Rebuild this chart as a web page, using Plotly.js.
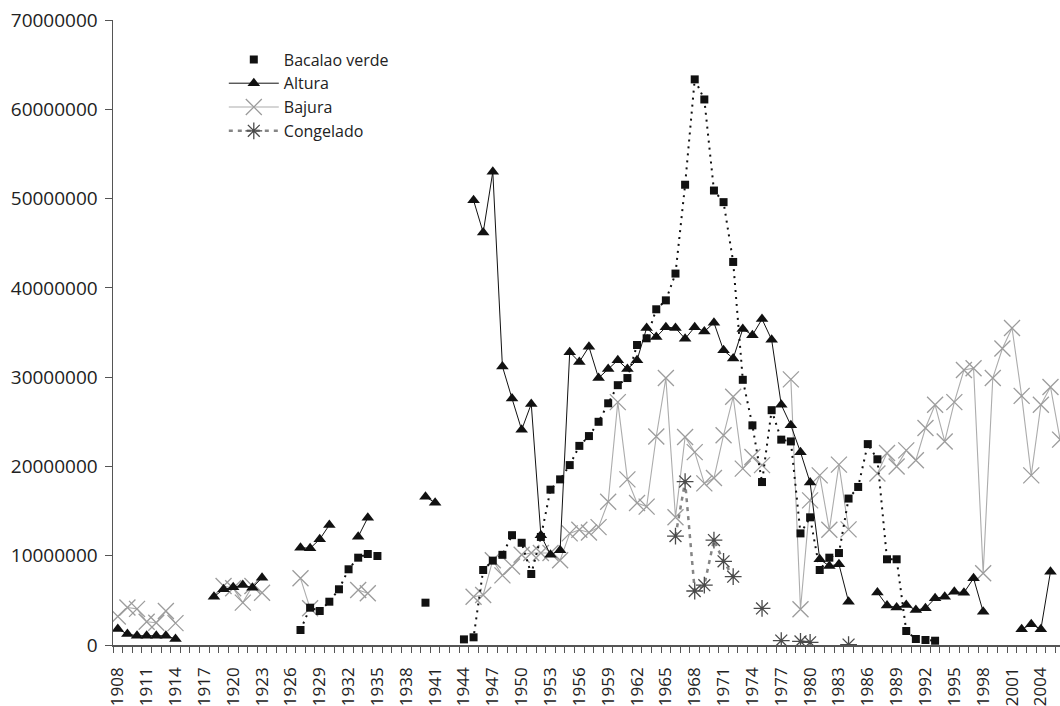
<!DOCTYPE html>
<html>
<head>
<meta charset="utf-8">
<script src="https://cdn.plot.ly/plotly-3.0.1.min.js"></script>
<style>
html,body{margin:0;padding:0;background:#fff;}
#chart{width:1060px;height:706px;}
</style>
</head>
<body>
<div id="chart"></div>
<script>
const years = [
1908,1909,1910,1911,1912,1913,1914,1915,1916,1917,
1918,1919,1920,1921,1922,1923,1924,1925,1926,1927,
1928,1929,1930,1931,1932,1933,1934,1935,1936,1937,
1938,1939,1940,1941,1942,1943,1944,1945,1946,1947,
1948,1949,1950,1951,1952,1953,1954,1955,1956,1957,
1958,1959,1960,1961,1962,1963,1964,1965,1966,1967,
1968,1969,1970,1971,1972,1973,1974,1975,1976,1977,
1978,1979,1980,1981,1982,1983,1984,1985,1986,1987,
1988,1989,1990,1991,1992,1993,1994,1995,1996,1997,
1998,1999,2000,2001,2002,2003,2004,2005,2006];

const bacalaoVerde = [
null,null,null,null,null,null,null,null,null,null,
null,null,null,null,null,null,null,null,null,1680000,
4180000,3810000,4850000,6240000,8480000,9780000,10190000,9970000,null,null,
null,null,4740000,null,null,null,630000,860000,8400000,9450000,
10100000,12300000,11450000,7950000,12100000,17400000,18550000,20150000,22300000,23400000,
25000000,27070000,29100000,29900000,33600000,34350000,37600000,38600000,41600000,51550000,
63350000,61100000,50900000,49600000,42900000,29700000,24600000,18250000,26300000,23000000,
22800000,12500000,14300000,8400000,9780000,10300000,16400000,17700000,22500000,20800000,
9600000,9600000,1570000,670000,560000,480000,null,null,null,null,
null,null,null,null,null,null,null,null,null];

const altura = [
1790000,1230000,1040000,1040000,1040000,1040000,670000,null,null,null,
5410000,6240000,6460000,6720000,6420000,7540000,null,null,null,10900000,
10830000,11840000,13440000,null,null,12130000,14260000,null,null,null,
null,null,16600000,15940000,null,null,null,49800000,46200000,53000000,
31200000,27600000,24100000,27000000,12300000,10100000,10600000,32800000,31700000,33400000,
29900000,30900000,31900000,30900000,31900000,35500000,34500000,35600000,35500000,34300000,
35600000,35100000,36100000,33000000,32100000,35400000,34700000,36500000,34200000,26900000,
24600000,21600000,18200000,9600000,8850000,9040000,4850000,null,null,5880000,
4420000,4200000,4480000,3920000,4110000,5230000,5410000,5970000,5860000,7470000,
3730000,null,null,null,1760000,2320000,1760000,8210000,null];

const bajura = [
3200000,4200000,4050000,2600000,2500000,3800000,2450000,null,null,null,
null,6600000,6350000,4750000,6600000,5850000,null,null,null,7470000,
4110000,null,null,null,null,6160000,5790000,null,null,null,
null,null,null,null,null,null,null,5400000,5600000,9500000,
7800000,8800000,10100000,10300000,10300000,10300000,9500000,12500000,12900000,12600000,
13200000,16050000,27200000,18550000,15900000,15500000,23350000,29900000,14300000,23300000,
21600000,18100000,18700000,23500000,27800000,19750000,21050000,20150000,null,null,
29750000,4000000,16200000,19000000,12900000,20200000,12950000,null,null,19200000,
21500000,20000000,21800000,20700000,24300000,26900000,22800000,27200000,30800000,31000000,
8030000,29900000,33200000,35500000,27900000,19000000,26900000,28900000,23000000];

const congelado = [
null,null,null,null,null,null,null,null,null,null,
null,null,null,null,null,null,null,null,null,null,
null,null,null,null,null,null,null,null,null,null,
null,null,null,null,null,null,null,null,null,null,
null,null,null,null,null,null,null,null,null,null,
null,null,null,null,null,null,null,null,12200000,18300000,
6050000,6700000,11750000,9370000,7650000,null,null,4100000,null,500000,
null,400000,300000,null,null,null,50000,null,null,null,
null,null,null,null,null,null,null,null,null,null,
null,null,null,null,null,null,null,null,null];

const xTickVals = [1908,1911,1914,1917,1920,1923,1926,1929,1932,1935,1938,1941,1944,1947,1950,1953,1956,1959,1962,1965,1968,1971,1974,1977,1980,1983,1986,1989,1992,1995,1998,2001,2004];
const yTickVals = [0,10000000,20000000,30000000,40000000,50000000,60000000,70000000];

const FONT = '"Open Sans", "DejaVu Sans", sans-serif';

const traces = [
  {
    x: years, y: bajura, name: 'Bajura', type: 'scatter', mode: 'lines+markers',
    line: {color: '#acacac', width: 1.1},
    marker: {symbol: 'x-thin-open', size: 16, color: '#9c9c9c', line: {width: 1.3, color: '#9c9c9c'}},
    legendrank: 3
  },
  {
    x: years, y: congelado, name: 'Congelado', type: 'scatter', mode: 'lines+markers',
    line: {color: '#858585', width: 2.5, dash: '4px,5px'},
    marker: {symbol: 'asterisk-open', size: 14, color: '#4a4a4a', line: {width: 1.3, color: '#4a4a4a'}},
    legendrank: 4
  },
  {
    x: years, y: altura, name: 'Altura', type: 'scatter', mode: 'lines+markers',
    line: {color: '#111', width: 1},
    marker: {symbol: 'triangle-up', size: 11, color: '#111'},
    legendrank: 2
  },
  {
    x: years, y: bacalaoVerde, name: 'Bacalao verde', type: 'scatter', mode: 'lines',
    line: {color: '#111', width: 2, dash: '2px,5px'},
    showlegend: false, hoverinfo: 'skip'
  },
  {
    x: years, y: bacalaoVerde, name: 'Bacalao verde', type: 'scatter', mode: 'markers',
    marker: {symbol: 'square', size: 8, color: '#111'},
    legendrank: 1
  }
];

const layout = {
  width: 1060, height: 706,
  margin: {l: 113, r: 0, t: 20, b: 61, pad: 0},
  paper_bgcolor: '#fff', plot_bgcolor: '#fff',
  font: {family: FONT, color: '#222'},
  showlegend: true,
  legend: {
    x: 0.117, y: 0.964, xanchor: 'left', yanchor: 'top',
    font: {family: FONT, size: 16, color: '#222'},
    bgcolor: 'rgba(0,0,0,0)', itemwidth: 50, tracegroupgap: 0
  },
  xaxis: {
    range: [1907.5, 2005.99],
    tickmode: 'array', tickvals: xTickVals,
    ticks: '', tickangle: -90,
    tickfont: {family: FONT, size: 17, color: '#222'},
    ticklabelstandoff: 14,
    minor: {tickmode: 'linear', tick0: 1907.5, dtick: 1, ticks: 'outside', ticklen: 6, tickwidth: 1, tickcolor: '#555', showgrid: false},
    showline: true, linecolor: '#555', linewidth: 1.5,
    showgrid: false, zeroline: false, fixedrange: true
  },
  yaxis: {
    range: [0, 70000000],
    tickmode: 'array', tickvals: yTickVals, tickformat: 'd',
    ticks: 'outside', ticklen: 7, tickwidth: 1, tickcolor: '#555',
    tickfont: {family: FONT, size: 19, color: '#222'},
    ticklabelstandoff: 3,
    showline: true, linecolor: '#555', linewidth: 1.5,
    showgrid: false, zeroline: false, fixedrange: true
  }
};

Plotly.newPlot('chart', traces, layout, {displayModeBar: false, staticPlot: true});
</script>
</body>
</html>
